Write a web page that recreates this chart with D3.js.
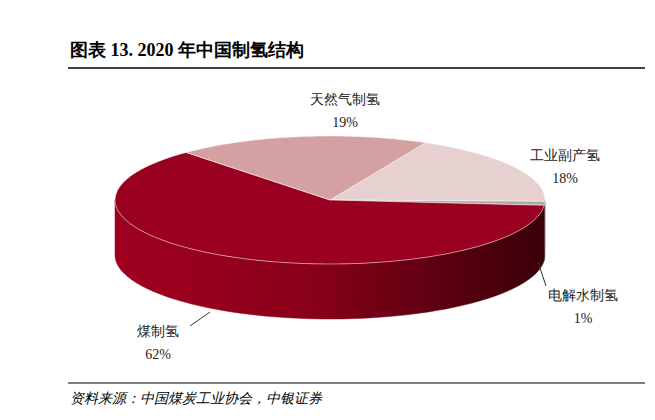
<!DOCTYPE html><html><head><meta charset="utf-8"><script src="https://cdn.jsdelivr.net/npm/d3@7"></script>
<style>body{margin:0;background:#fff}</style></head><body><svg id="c" width="655" height="420"></svg><script>
const categories=["工业副产氢","电解水制氢","煤制氢","天然气制氢"];
const values=[18,1,62,19];
const labels=["18%","1%","62%","19%"];
const topColors=["#e6d0d0","#b0a8a8","#9a0020","#d4a0a1"];
const svg=d3.select("#c");
const serif="'Liberation Serif','DejaVu Serif',serif";
svg.append("text").attr("x",70).attr("y",56).attr("font-family",serif).attr("font-weight","bold").attr("font-size",18).text("图表 13. 2020 年中国制氢结构");
svg.append("line").attr("x1",68).attr("x2",645).attr("y1",68).attr("y2",68).attr("stroke","#000").attr("stroke-width",1.5);
svg.append("line").attr("x1",68).attr("x2",645).attr("y1",383).attr("y2",383).attr("stroke","#000").attr("stroke-width",1);
svg.append("text").attr("x",70).attr("y",403).attr("font-family",serif).attr("font-style","italic").attr("font-size",14).text("资料来源：中国煤炭工业协会，中银证券");
const cx=330,cy=200,rx=215,ry=64,dep=55;
const pie=d3.pie().sort(null).value(d=>d).startAngle(-63.6*Math.PI/180).endAngle(2*Math.PI-63.6*Math.PI/180);
const arcs=pie(values);
const P=(t,dy=0)=>[cx+rx*Math.cos(t),cy+ry*Math.sin(t)+dy];
const defs=svg.append("defs");
const g=defs.append("linearGradient").attr("id","sg").attr("x1","0").attr("x2","1");
g.append("stop").attr("offset","0").attr("stop-color","#a00020");
g.append("stop").attr("offset","0.45").attr("stop-color","#8a001a");
g.append("stop").attr("offset","1").attr("stop-color","#3a0008");
const sideCol=["#c8b8b8","#7a7070","url(#sg)","#b08080"];
// sides (visible front half 0..pi)
arcs.forEach((a,i)=>{
  let s=Math.max(a.startAngle,0),e=Math.min(a.endAngle,Math.PI);
  if(e<=s)return;
  const p=d3.path();const n=60;
  for(let k=0;k<=n;k++){const t=s+(e-s)*k/n;const q=P(t);k?p.lineTo(...q):p.moveTo(...q);}
  for(let k=n;k>=0;k--){const t=s+(e-s)*k/n;p.lineTo(...P(t,dep));}
  p.closePath();
  svg.append("path").attr("d",p.toString()).attr("fill",sideCol[i]).attr("stroke",sideCol[i]).attr("stroke-width",0.5);
});
arcs.forEach((a,i)=>{
  const p=d3.path();p.moveTo(cx,cy);const n=80;
  for(let k=0;k<=n;k++){p.lineTo(...P(a.startAngle+(a.endAngle-a.startAngle)*k/n));}
  p.closePath();
  svg.append("path").attr("d",p.toString()).attr("fill",topColors[i]).attr("stroke","#fff").attr("stroke-width",0.5);
});
const lp=[[565,160],[583,300],[158,336],[345,104]];
arcs.forEach((a,i)=>{
  const t=svg.append("text").attr("font-family",serif).attr("font-size",14).attr("text-anchor","middle").attr("fill","#222");
  t.append("tspan").attr("x",lp[i][0]).attr("y",lp[i][1]).text(categories[i]);
  t.append("tspan").attr("x",lp[i][0]).attr("y",lp[i][1]+23).text(labels[i]);
});
svg.append("path").attr("d","M538,262L546,286").attr("stroke","#333").attr("fill","none");
svg.append("path").attr("d","M210,312L190,326").attr("stroke","#333").attr("fill","none");
</script></body></html>
